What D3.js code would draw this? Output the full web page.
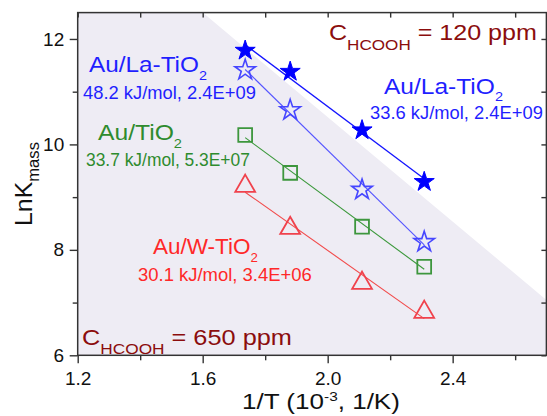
<!DOCTYPE html>
<html>
<head>
<meta charset="utf-8">
<script src="https://cdn.jsdelivr.net/npm/d3@7"></script>
<style>
  html, body { margin: 0; padding: 0; background: #fff; }
  svg { display: block; font-family: "Liberation Sans", Arial, sans-serif; }
</style>
</head>
<body>
<svg id="chart" width="547" height="416"></svg>
<script>
// Arrhenius plot: ln K_mass versus 1/T for three Au catalysts
const invT = [1.736, 1.880, 2.110, 2.309];               // 1/T, 10^-3 1/K
const lnK_LaTiO2_120 = [11.78, 11.38, 10.27, 9.29];      // Au/La-TiO2, 120 ppm HCOOH
const lnK_LaTiO2_650 = [11.41, 10.65, 9.14, 8.15];       // Au/La-TiO2, 650 ppm HCOOH
const lnK_TiO2_650   = [10.18, 9.46, 8.44, 7.68];        // Au/TiO2, 650 ppm HCOOH
const lnK_WTiO2_650  = [9.21, 8.41, 7.37, 6.82];         // Au/W-TiO2, 650 ppm HCOOH

const xMajorTicks = [1.2, 1.6, 2.0, 2.4];
const xMinorTicks = [1.4, 1.8, 2.2, 2.6];
const yMajorTicks = [6, 8, 10, 12];
const yMinorTicks = [7, 9, 11];
const xTickLabels = ["1.2", "1.6", "2.0", "2.4"];
const yTickLabels = ["6", "8", "10", "12"];

// shaded region (650 ppm domain), in data units
const shadeRegion = [[1.2, 6], [1.2, 12.5], [1.6, 12.5], [2.7, 7.05], [2.7, 6]];

const svg = d3.select("#chart");
const x = d3.scaleLinear().domain([1.2, 2.7]).range([77.7, 546.4]);
const y = d3.scaleLinear().domain([6, 12.5]).range([355.3, 12.6]);

// background shading
svg.append("path")
  .datum(shadeRegion)
  .attr("d", d3.line().x(d => x(d[0])).y(d => y(d[1])))
  .attr("fill", "#eeecf4");

// least-squares line over the measured range
function fitLine(xs, ys) {
  const n = xs.length;
  const mx = d3.mean(xs), my = d3.mean(ys);
  let sxy = 0, sxx = 0;
  for (let i = 0; i < n; i++) { sxy += (xs[i] - mx) * (ys[i] - my); sxx += (xs[i] - mx) ** 2; }
  const b = sxy / sxx, a = my - b * mx;
  const x0 = d3.min(xs), x1 = d3.max(xs);
  return [[x0, a + b * x0], [x1, a + b * x1]];
}

const series = [
  { ys: lnK_WTiO2_650,  line: "#f24a4a", lw: 1.1, sym: d3.symbolTriangle, size: 170, fill: "none", stroke: "#f0424c", sw: 1.8 },
  { ys: lnK_TiO2_650,   line: "#3a983a", lw: 1.1, sym: d3.symbolSquare,   size: 190, fill: "none", stroke: "#3d963d", sw: 1.8 },
  { ys: lnK_LaTiO2_650, line: "#5555ff", lw: 1.1, sym: d3.symbolStar,     size: 130, fill: "none", stroke: "#4646ff", sw: 1.6 },
  { ys: lnK_LaTiO2_120, line: "#1515ff", lw: 1.3, sym: d3.symbolStar,     size: 125, fill: "#0000ff", stroke: "#0000ff", sw: 1 }
];

const lineGen = d3.line().x(d => x(d[0])).y(d => y(d[1]));
series.forEach(s => {
  svg.append("path")
    .attr("d", lineGen(fitLine(invT, s.ys)))
    .attr("fill", "none").attr("stroke", s.line).attr("stroke-width", s.lw);
});
series.forEach(s => {
  svg.append("g").selectAll("path")
    .data(invT.map((t, i) => [t, s.ys[i]]))
    .join("path")
    .attr("transform", d => `translate(${x(d[0])},${y(d[1])})`)
    .attr("d", d3.symbol().type(s.sym).size(s.size))
    .attr("fill", s.fill).attr("stroke", s.stroke)
    .attr("stroke-width", s.sw).attr("stroke-linejoin", "miter");
});

// axes
const axisColor = "#333";
function styleAxis(g) {
  g.select(".domain").remove();
  g.selectAll("line").attr("stroke", axisColor).attr("stroke-width", 1.4);
  g.selectAll("text").attr("fill", "#111").style("font-size", "19px")
    .style("font-family", "'Liberation Sans', Arial, sans-serif");
}
svg.append("g").attr("transform", `translate(0,${y(6)})`)
  .call(d3.axisBottom(x).tickValues(xMajorTicks).tickSize(8).tickPadding(8)
    .tickFormat((d, i) => xTickLabels[i]))
  .call(styleAxis);
svg.append("g").attr("transform", `translate(0,${y(6)})`)
  .call(d3.axisBottom(x).tickValues(xMinorTicks).tickSize(5).tickFormat(""))
  .call(styleAxis);
svg.append("g").attr("transform", `translate(${x(1.2)},0)`)
  .call(d3.axisLeft(y).tickValues(yMajorTicks).tickSize(8).tickPadding(5.5)
    .tickFormat((d, i) => yTickLabels[i]))
  .call(styleAxis);
svg.append("g").attr("transform", `translate(${x(1.2)},0)`)
  .call(d3.axisLeft(y).tickValues(yMinorTicks).tickSize(5).tickFormat(""))
  .call(styleAxis);
// mirrored ticks on top and right, pointing inward
svg.append("g").attr("transform", `translate(0,${y(12.5)})`)
  .call(d3.axisBottom(x).tickValues(xMajorTicks.concat(xMinorTicks)).tickSize(5).tickFormat(""))
  .call(styleAxis);
svg.append("g").attr("transform", `translate(${x(2.7)},0)`)
  .call(d3.axisLeft(y).tickValues(yMajorTicks.concat(yMinorTicks)).tickSize(5).tickFormat(""))
  .call(styleAxis);

// frame
svg.append("rect")
  .attr("x", x(1.2)).attr("y", y(12.5))
  .attr("width", x(2.7) - x(1.2)).attr("height", y(6) - y(12.5))
  .attr("fill", "none").attr("stroke", axisColor).attr("stroke-width", 1.5);

// text with sub/superscripts, stretched to a given ink width
function richText(o) {
  const t = svg.append("text")
    .attr("fill", o.color)
    .style("font-size", o.size + "px");
  let cur = 0;
  o.parts.forEach(p => {
    const shift = p.shift || 0;
    t.append("tspan")
      .attr("dy", shift - cur)
      .style("font-size", (p.size || o.size) + "px")
      .text(p.t);
    cur = shift;
  });
  const w = t.node().getBBox().width;
  const sx = o.width ? o.width / w : 1;
  t.attr("transform", `translate(${o.x},${o.y}) rotate(${o.rotate || 0}) scale(${sx},1)`);
  return t;
}

const darkRed = "#8b0d0d", blue = "#1f1fff", green = "#2e8b2e", red = "#ff2828";

richText({ x: 329, y: 40, size: 22, width: 208, color: darkRed,
  parts: [{ t: "C" }, { t: "HCOOH", size: 15, shift: 10 }, { t: " = 120 ppm" }] });
richText({ x: 82, y: 345, size: 22, width: 210, color: darkRed,
  parts: [{ t: "C" }, { t: "HCOOH", size: 15, shift: 9 }, { t: " = 650 ppm" }] });

richText({ x: 384, y: 94, size: 22, width: 119, color: blue,
  parts: [{ t: "Au/La-TiO" }, { t: "2", size: 13, shift: 7 }] });
richText({ x: 370, y: 119, size: 17.5, width: 173, color: blue,
  parts: [{ t: "33.6 kJ/mol, 2.4E+09" }] });

richText({ x: 89, y: 72, size: 22, width: 118, color: blue,
  parts: [{ t: "Au/La-TiO" }, { t: "2", size: 13, shift: 8 }] });
richText({ x: 83, y: 99, size: 17.5, width: 173, color: blue,
  parts: [{ t: "48.2 kJ/mol, 2.4E+09" }] });

richText({ x: 98, y: 140, size: 22, width: 84, color: green,
  parts: [{ t: "Au/TiO" }, { t: "2", size: 13, shift: 8 }] });
richText({ x: 86, y: 166, size: 17.5, width: 164, color: green,
  parts: [{ t: "33.7 kJ/mol, 5.3E+07" }] });

richText({ x: 153, y: 254, size: 22, width: 105, color: red,
  parts: [{ t: "Au/W-TiO" }, { t: "2", size: 13, shift: 8 }] });
richText({ x: 138, y: 281, size: 17.5, width: 174, color: red,
  parts: [{ t: "30.1 kJ/mol, 3.4E+06" }] });

// axis titles
richText({ x: 242, y: 409, size: 22, width: 158, color: "#111",
  parts: [{ t: "1/T (10" }, { t: "-3", size: 13, shift: -8 }, { t: ", 1/K)" }] });
richText({ x: 32, y: 226, size: 24, width: 84, color: "#111", rotate: -90,
  parts: [{ t: "LnK" }, { t: "mass", size: 16, shift: 7 }] });
</script>
</body>
</html>
